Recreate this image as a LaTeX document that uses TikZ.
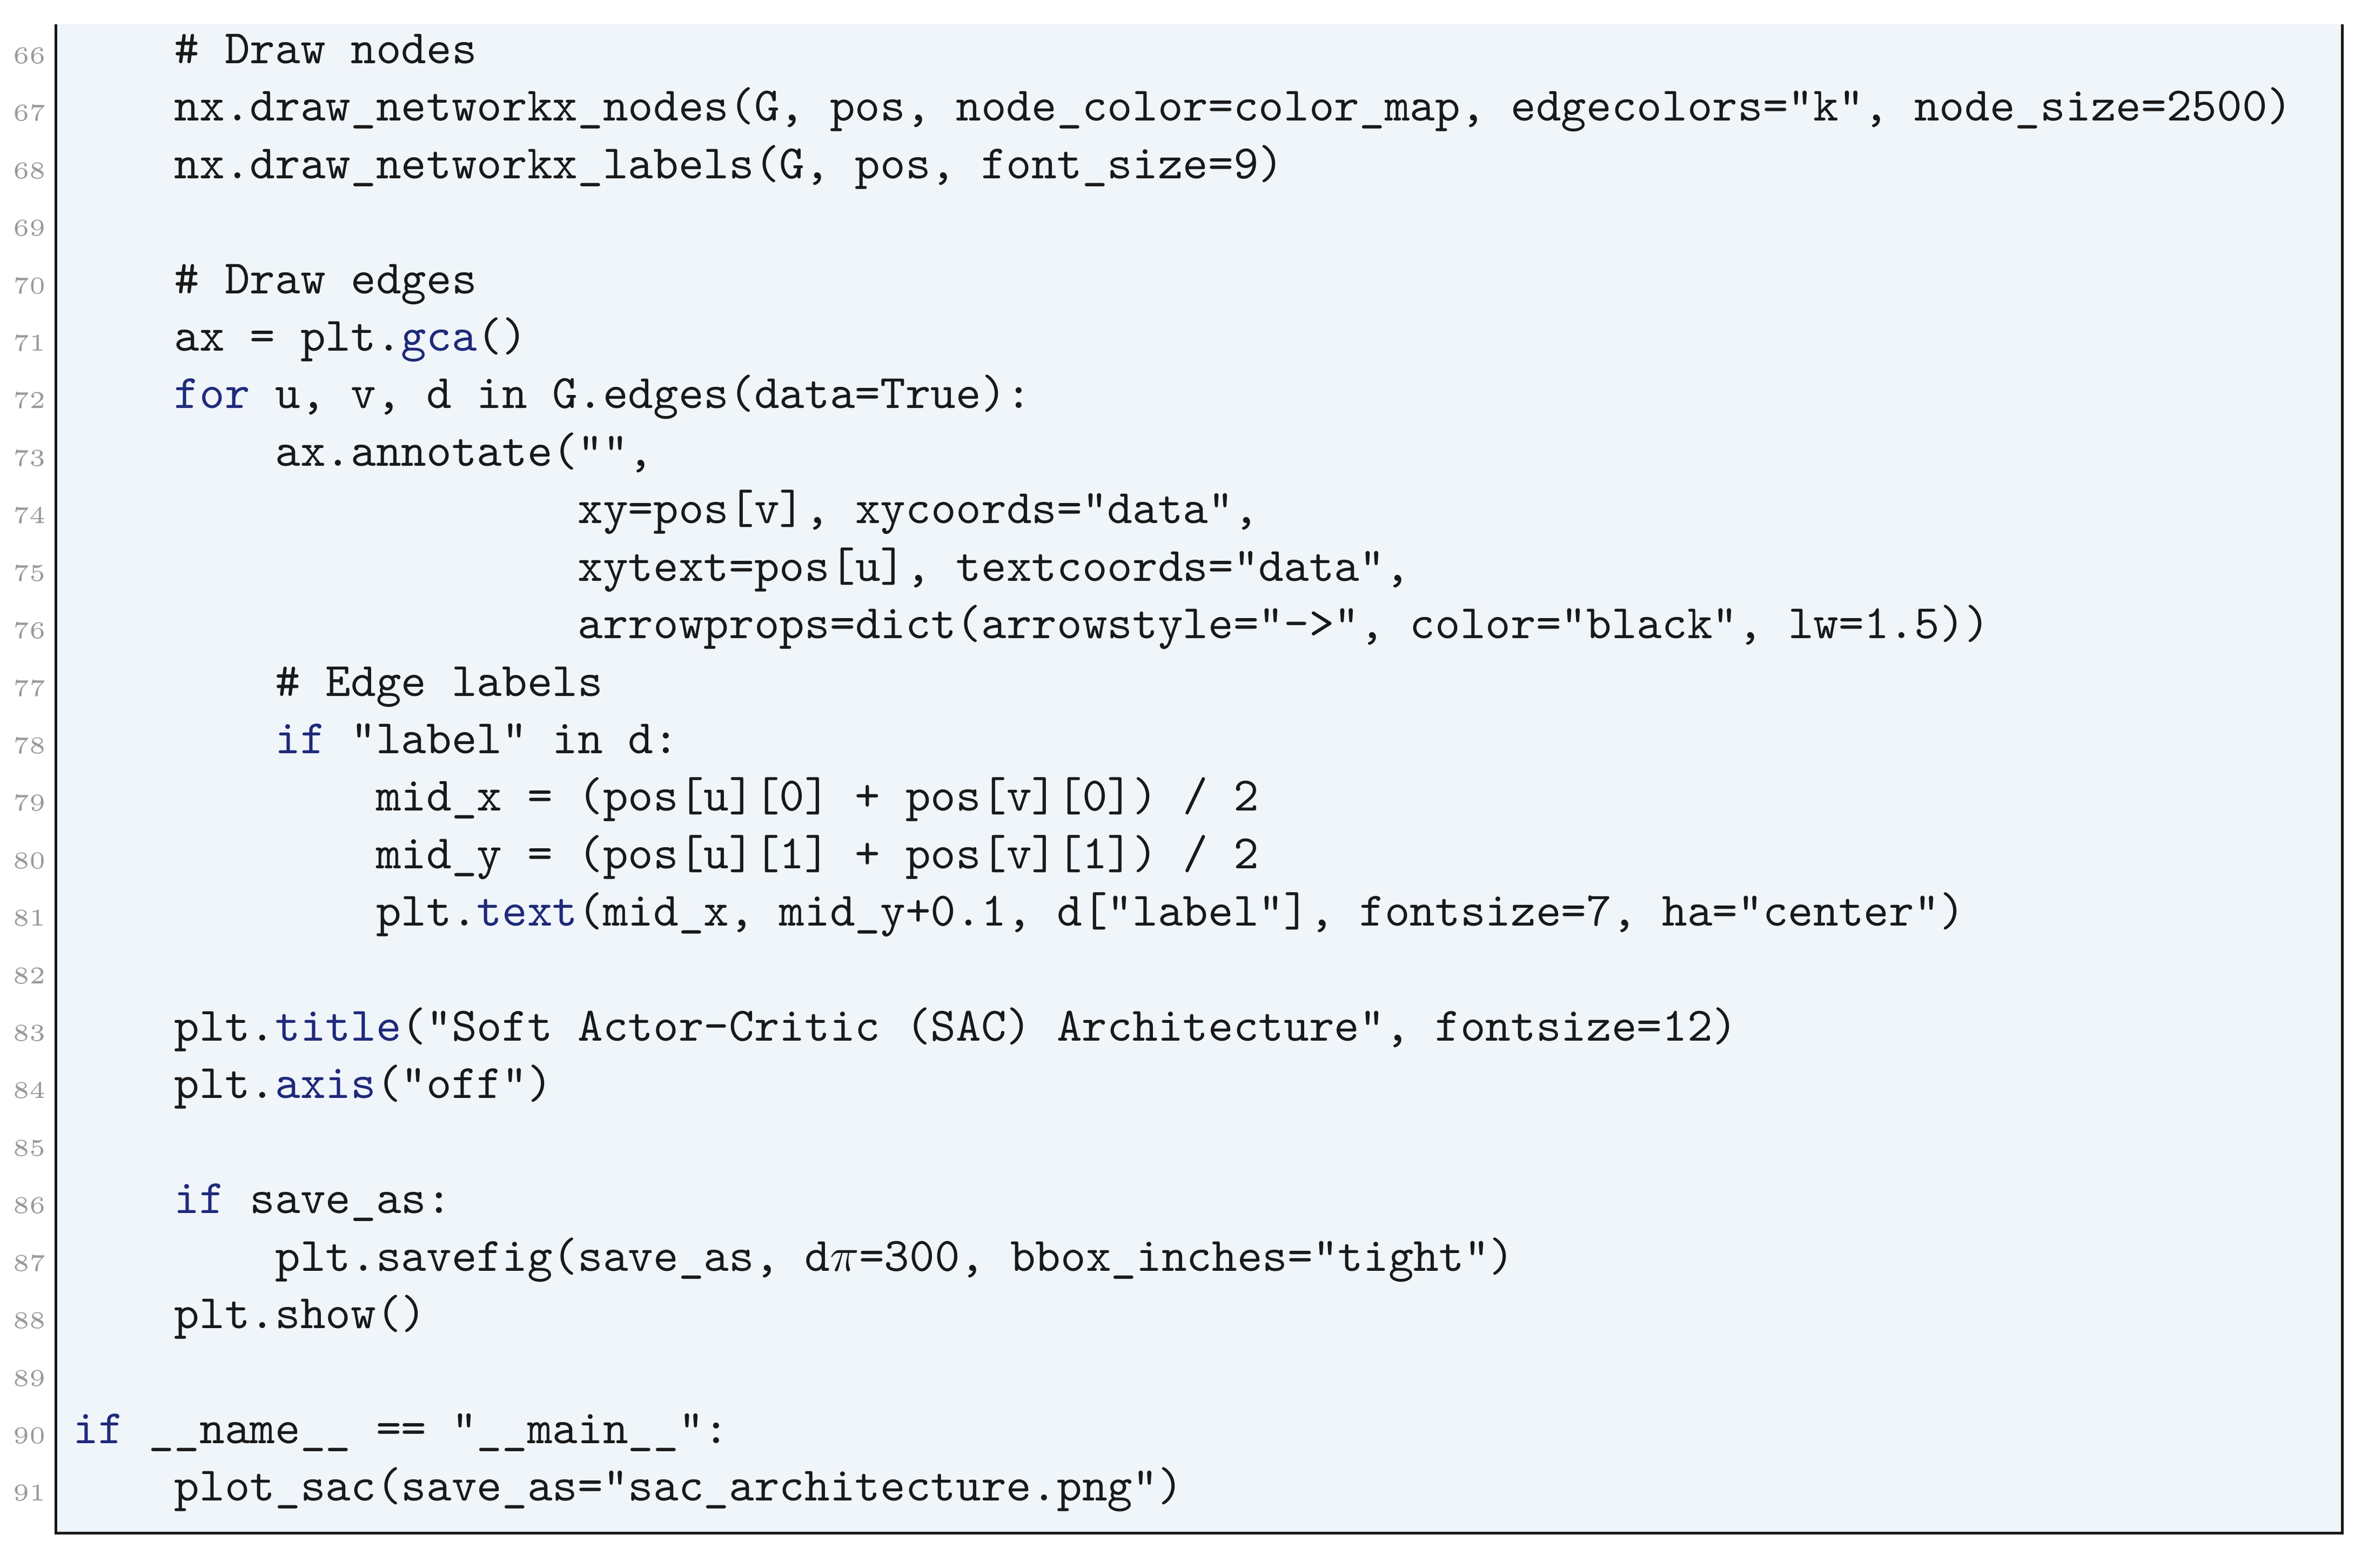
\documentclass[tikz,border=0pt]{standalone}
\usepackage{fontspec}
\usepackage{tikz}
\usetikzlibrary{positioning}
\definecolor{codebg}{HTML}{F0F5FA}
\definecolor{codeblue}{HTML}{1F2A7A}
\definecolor{numgray}{HTML}{999999}
\newcommand\colw{16.7}
\newcommand\rowh{38.07}
\newcommand\fn[1]{\textcolor{codeblue}{#1}}
\newcommand\kw[1]{\textcolor{codeblue}{#1}}
\newcommand\codeline[3]{\node[codetext] (l#1) at ({48+#2*\colw},{42+(#1-66)*\rowh}) {#3};}
\tikzset{codetext/.style={anchor=base west,inner sep=0pt,font=\ttfamily\fontsize{10}{12}\selectfont,text=black!90},
  lineno/.style={anchor=base east,inner sep=0pt,font=\fontsize{5}{6}\selectfont,text=numgray},
  frameline/.style={draw=black!90,line width=0.6pt}}

\begin{document}
\begin{tikzpicture}[x=0.3144pt,y=-0.3144pt]
                \useasboundingbox (0,0) rectangle (1568,1038);
                \fill[codebg] (37,16) rectangle (1551,1015);
                \draw[frameline] (37,16) -- (37,1015) -- (1551,1015) -- (1551,16);
                \foreach \n in {66,...,91}{\node[lineno] (n\n) at (31,{42+(\n-66)*\rowh}) {\n};}

                \codeline{66}{4}{\# Draw nodes}
                \codeline{67}{4}{nx.draw\_networkx\_nodes(G, pos, node\_color=color\_map, edgecolors="k", node\_size=2500)}
                \codeline{68}{4}{nx.draw\_networkx\_labels(G, pos, font\_size=9)}

                \codeline{70}{4}{\# Draw edges}
                \codeline{71}{4}{ax = plt.\fn{gca}()}
                \codeline{72}{4}{\kw{for} u, v, d in G.edges(data=True):}
                \codeline{73}{8}{ax.annotate("",}
                \codeline{74}{20}{xy=pos[v], xycoords="data",}
                \codeline{75}{20}{xytext=pos[u], textcoords="data",}
                \codeline{76}{20}{arrowprops=dict(arrowstyle="->", color="black", lw=1.5))}
                \codeline{77}{8}{\# Edge labels}
                \codeline{78}{8}{\kw{if} "label" in d:}
                \codeline{79}{12}{mid\_x = (pos[u][0] + pos[v][0]) / 2}
                \codeline{80}{12}{mid\_y = (pos[u][1] + pos[v][1]) / 2}
                \codeline{81}{12}{plt.\fn{text}(mid\_x, mid\_y+0.1, d["label"], fontsize=7, ha="center")}

                \codeline{83}{4}{plt.\fn{title}("Soft Actor-Critic (SAC) Architecture", fontsize=12)}
                \codeline{84}{4}{plt.\fn{axis}("off")}

                \codeline{86}{4}{\kw{if} save\_as:}
                \codeline{87}{8}{plt.savefig(save\_as, d$\pi$=300, bbox\_inches="tight")}
                \codeline{88}{4}{plt.show()}

                \codeline{90}{0}{\kw{if} \_\_name\_\_ == "\_\_main\_\_":}
                \codeline{91}{4}{plot\_sac(save\_as="sac\_architecture.png")}
            \end{tikzpicture}
\end{document}
